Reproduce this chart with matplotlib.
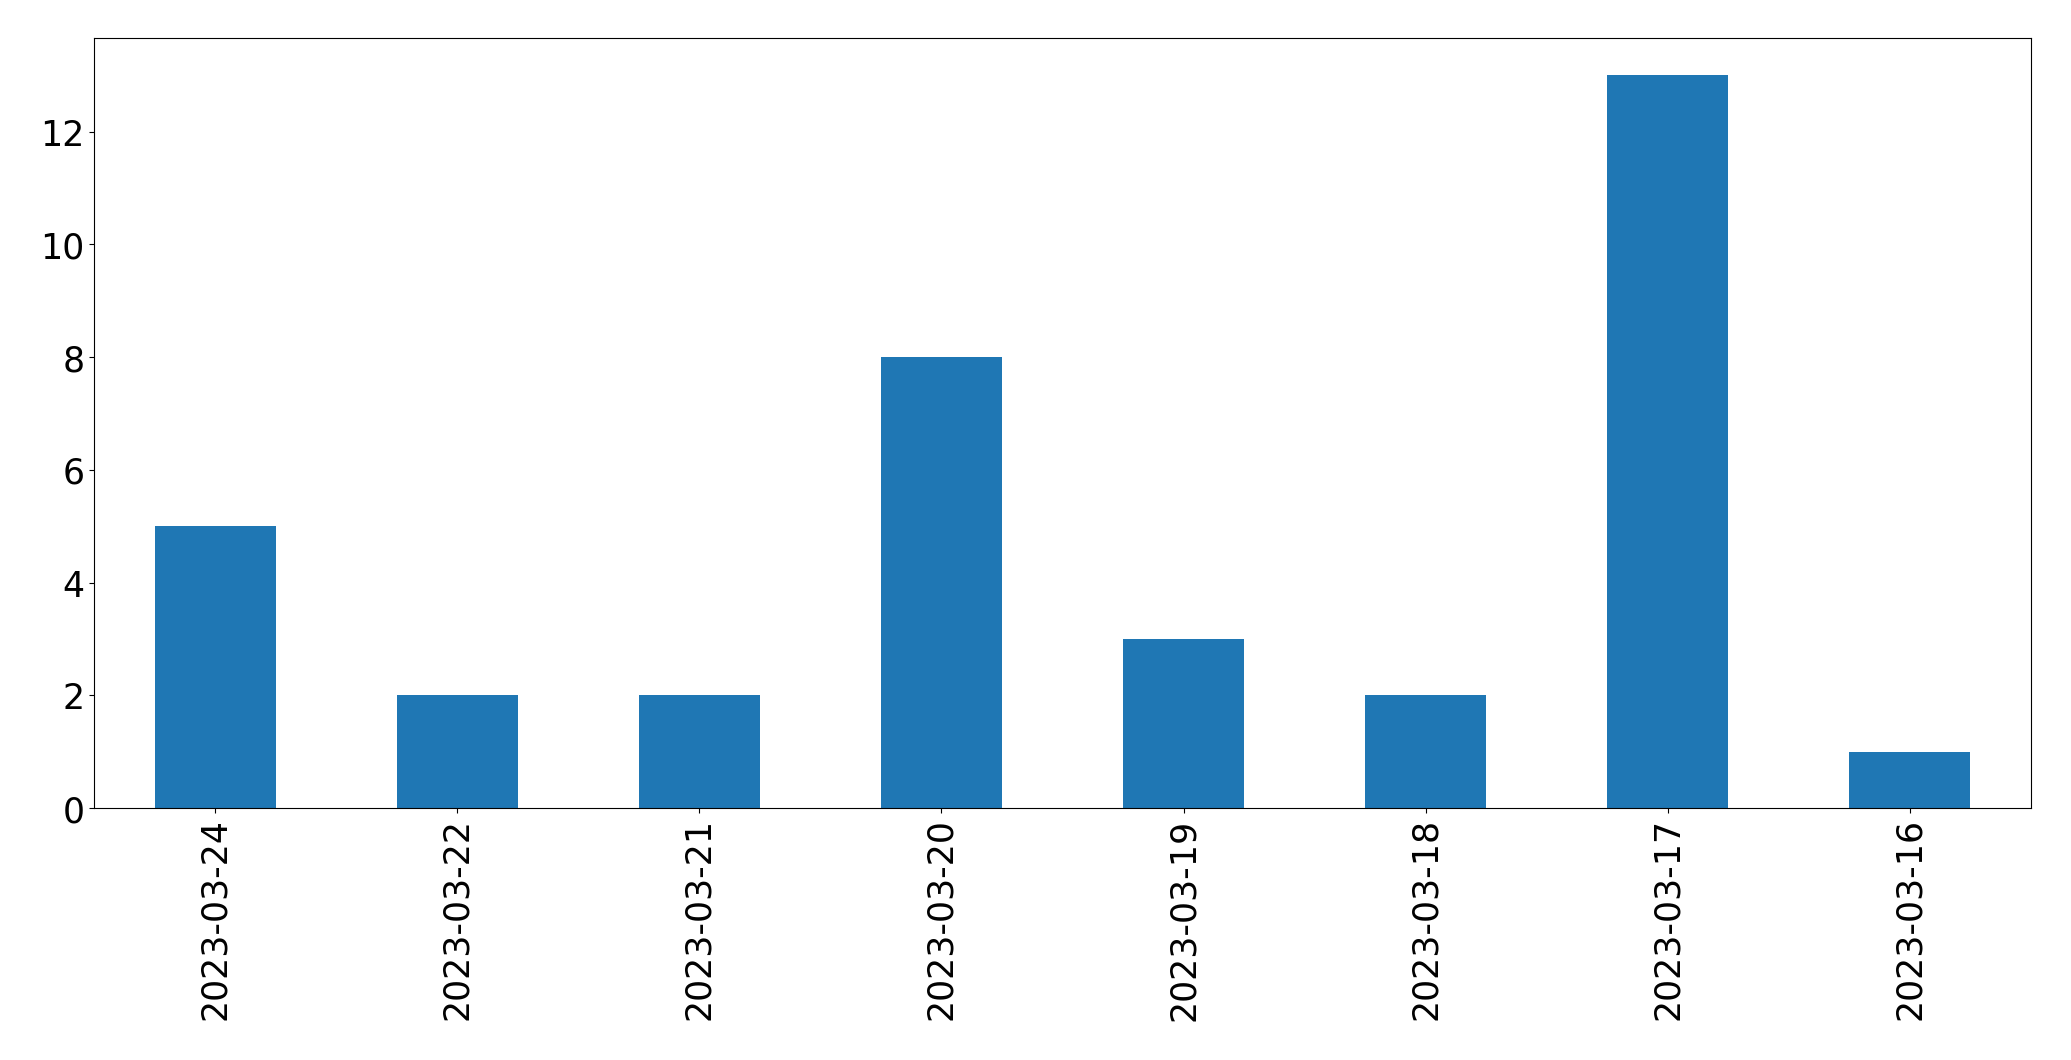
import matplotlib
matplotlib.use('Agg')
import matplotlib.pyplot as plt

dates = ['2023-03-24', '2023-03-22', '2023-03-21', '2023-03-20',
         '2023-03-19', '2023-03-18', '2023-03-17', '2023-03-16']
counts = [5, 2, 2, 8, 3, 2, 13, 1]

fig = plt.figure(figsize=(20.71, 10.605), dpi=100)
ax = fig.add_axes([94 / 2071, 1 - 809 / 1061, (2031 - 94) / 2071, (809 - 39) / 1061])

x = range(len(dates))
ax.bar(x, counts, width=0.5, color='#1f77b4')
ax.set_xlim(-0.5, len(dates) - 0.5)
ax.set_xticks(list(x))
ax.set_xticklabels(dates, rotation=90)
ax.tick_params(labelsize=25)

fig.savefig('out.png', dpi=100)
